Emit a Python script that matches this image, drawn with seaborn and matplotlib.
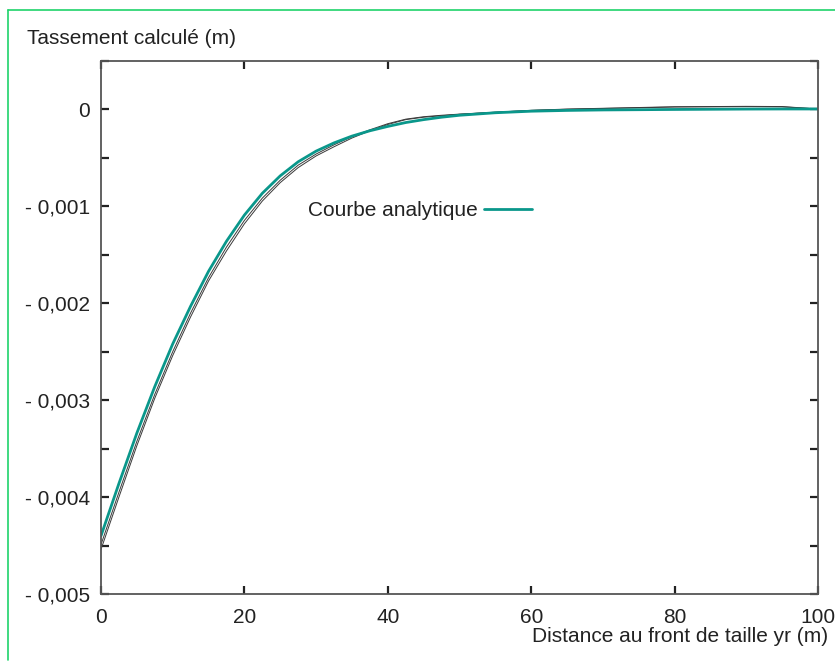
import numpy as np
import pandas as pd
import matplotlib
matplotlib.use('Agg')
import matplotlib.pyplot as plt
from matplotlib.lines import Line2D
import seaborn as sns

# Distance to the face (m)
x_dist = [0, 2.5, 5, 7.5, 10, 12.5, 15, 17.5, 20, 22.5, 25, 27.5, 30, 32.5, 35,
          37.5, 40, 42.5, 45, 47.5, 50, 55, 60, 65, 70, 80, 90, 95, 100]

# Analytical curve, settlement (m)
y_analytic = [-4.40e-3, -3.86e-3, -3.34e-3, -2.86e-3, -2.42e-3, -2.03e-3, -1.67e-3,
              -1.36e-3, -1.09e-3, -0.865e-3, -0.685e-3, -0.54e-3, -0.43e-3,
              -0.345e-3, -0.275e-3, -0.22e-3, -0.175e-3, -0.135e-3, -0.105e-3,
              -0.08e-3, -0.06e-3, -0.034e-3, -0.018e-3, -0.010e-3, -0.005e-3,
              0.0, 0.004e-3, 0.005e-3, 0.005e-3]

# Numerical curves (thin black)
y_num_1 = [-4.54e-3, -4.00e-3, -3.47e-3, -2.98e-3, -2.54e-3, -2.14e-3, -1.77e-3,
           -1.46e-3, -1.18e-3, -0.945e-3, -0.755e-3, -0.60e-3, -0.48e-3,
           -0.385e-3, -0.295e-3, -0.22e-3, -0.155e-3, -0.105e-3, -0.08e-3,
           -0.065e-3, -0.05e-3, -0.029e-3, -0.010e-3, 0.002e-3, 0.010e-3,
           0.025e-3, 0.029e-3, 0.027e-3, 0.005e-3]
y_num_2 = [-4.49e-3, -3.95e-3, -3.425e-3, -2.94e-3, -2.50e-3, -2.10e-3, -1.735e-3,
           -1.42e-3, -1.145e-3, -0.915e-3, -0.73e-3, -0.575e-3, -0.46e-3,
           -0.365e-3, -0.28e-3, -0.21e-3, -0.147e-3, -0.10e-3, -0.075e-3,
           -0.06e-3, -0.048e-3, -0.028e-3, -0.009e-3, 0.004e-3, 0.012e-3,
           0.028e-3, 0.032e-3, 0.030e-3, 0.005e-3]

x_ticks = [0, 20, 40, 60, 80, 100]
y_ticks = [0, -0.001, -0.002, -0.003, -0.004, -0.005]
y_tick_labels = ['0', '- 0,001', '- 0,002', '- 0,003', '- 0,004', '- 0,005']
y_minor = [-0.0005, -0.0015, -0.0025, -0.0035, -0.0045, 0.0005]

sns.set_theme(style='ticks')
plt.rcParams['font.family'] = ['Liberation Sans', 'DejaVu Sans']

fs = 15
text_color = '#222222'
green = '#0a978b'

fig = plt.figure(figsize=(8.35, 6.63), dpi=100)
ax = fig.add_axes([101 / 835, 1 - 594 / 663, 717 / 835, 533 / 663])

num_color = '#3a3a3a'
sns.lineplot(x=x_dist, y=y_num_1, ax=ax, color=num_color, linewidth=0.7)
sns.lineplot(x=x_dist, y=y_num_2, ax=ax, color=num_color, linewidth=0.7)
sns.lineplot(x=x_dist, y=y_analytic, ax=ax, color=green, linewidth=2.0)

ax.set_xlim(0, 100)
ax.set_ylim(-0.005, 0.0005)
ax.set_xticks(x_ticks)
ax.set_xticklabels([str(v) for v in x_ticks])
ax.set_yticks(y_ticks)
ax.set_yticklabels(y_tick_labels)
ax.set_yticks(y_minor, minor=True)
ax.set_xlabel('')
ax.set_ylabel('')

ax.tick_params(which='both', direction='in', top=True, right=True, length=6,
               width=1.6, color=text_color, labelsize=fs, labelcolor=text_color)
ax.tick_params(axis='x', pad=10)
ax.tick_params(axis='y', pad=8)
for s in ax.spines.values():
    s.set_color('#555555')
    s.set_linewidth(1.3)

handle = Line2D([0], [0], color=green, linewidth=2.0)
ax.legend([handle], ['Courbe analytique'], loc='center left',
          bbox_to_anchor=(0.289, 0.719), frameon=False, markerfirst=False,
          borderaxespad=0, borderpad=0, handlelength=2.3, handletextpad=0.3,
          fontsize=fs, labelcolor=text_color)

fig.text(27 / 835, 1 - 39 / 663, 'Tassement calculé (m)', fontsize=fs,
         color=text_color, ha='left', va='center')
fig.text(828 / 835, 1 - 636 / 663, 'Distance au front de taille yr (m)',
         fontsize=fs, color=text_color, ha='right', va='center')

# green frame on top and left
frame_color = '#1fd36b'
fig.add_artist(Line2D([8 / 835, 1.0], [1 - 10 / 663, 1 - 10 / 663],
                      color=frame_color, linewidth=1.2))
fig.add_artist(Line2D([8 / 835, 8 / 835], [1 - 10 / 663, 1 - 660 / 663],
                      color=frame_color, linewidth=1.2))

fig.savefig('out.png', dpi=100)
